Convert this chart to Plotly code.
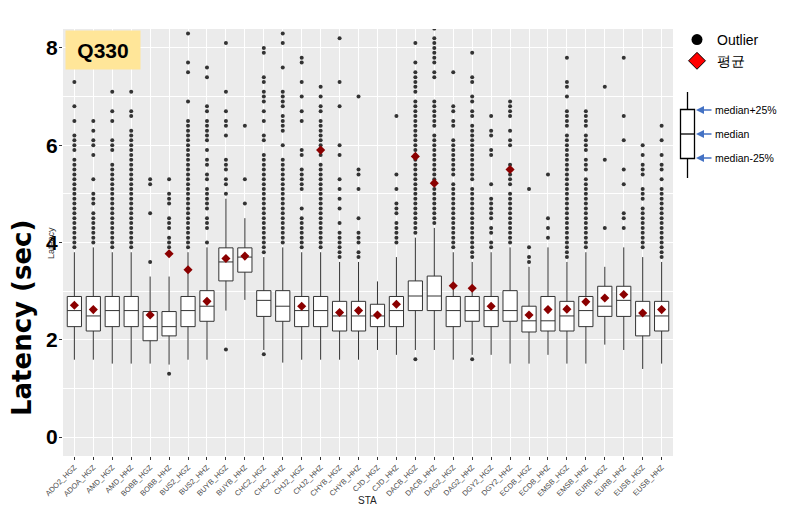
import plotly.graph_objects as go

stations = ["ADO2_HGZ", "ADOA_HGZ", "AMD_HGZ", "AMD_HHZ", "BOBB_HGZ", "BOBB_HHZ", "BUS2_HGZ", "BUS2_HHZ",
            "BUYB_HGZ", "BUYB_HHZ", "CHC2_HGZ", "CHC2_HHZ", "CHJ2_HGZ", "CHJ2_HHZ", "CHYB_HGZ", "CHYB_HHZ",
            "CJD_HGZ", "CJD_HHZ", "DACB_HGZ", "DACB_HHZ", "DAG2_HGZ", "DAG2_HHZ", "DGY2_HGZ", "DGY2_HHZ",
            "ECDB_HGZ", "ECDB_HHZ", "EMSB_HGZ", "EMSB_HHZ", "EURB_HGZ", "EURB_HHZ", "EUSB_HGZ", "EUSB_HHZ"]

q1 = [2.27, 2.18, 2.27, 2.27, 1.98, 2.08, 2.27, 2.38, 3.21, 3.39, 2.48, 2.38, 2.27, 2.27, 2.18, 2.18,
      2.27, 2.27, 2.60, 2.60, 2.27, 2.38, 2.27, 2.38, 2.16, 2.18, 2.18, 2.27, 2.48, 2.48, 2.08, 2.18]
median = [2.60, 2.49, 2.60, 2.60, 2.27, 2.27, 2.60, 2.69, 3.60, 3.70, 2.81, 2.69, 2.60, 2.60, 2.49, 2.49,
          2.49, 2.60, 2.90, 2.90, 2.60, 2.60, 2.60, 2.60, 2.39, 2.39, 2.49, 2.60, 2.69, 2.81, 2.49, 2.49]
q3 = [2.89, 2.89, 2.89, 2.89, 2.58, 2.58, 2.89, 3.01, 3.89, 3.89, 3.01, 3.01, 2.89, 2.89, 2.79, 2.79,
      2.73, 2.89, 3.21, 3.31, 2.89, 2.89, 2.89, 3.01, 2.69, 2.89, 2.79, 2.89, 3.10, 3.10, 2.79, 2.79]
lower_whisker = [1.59, 1.59, 1.51, 1.51, 1.51, 1.49, 1.59, 1.59, 2.60, 2.82, 1.79, 1.53, 1.59, 1.59, 1.59, 1.59,
                 1.79, 1.69, 1.79, 1.79, 1.59, 1.69, 1.69, 1.51, 1.51, 1.69, 1.51, 1.51, 1.90, 1.79, 1.40, 1.51]
upper_whisker = [3.8, 3.9, 3.8, 3.8, 3.3, 3.3, 3.8, 3.9, 4.9, 4.5, 3.7, 3.9, 3.8, 3.8, 3.6, 3.6,
                 3.2, 3.7, 4.1, 4.3, 3.8, 3.6, 3.8, 3.9, 3.5, 3.9, 3.6, 3.8, 3.5, 3.9, 3.7, 3.6]
mean_values = [2.71, 2.62, None, None, 2.51, 3.77, 3.44, 2.79, 3.67, 3.72, None, None, 2.69, 5.90, 2.56, 2.60,
               2.51, 2.73, 5.77, 5.22, 3.11, 3.06, 2.69, 5.50, 2.51, 2.62, 2.63, 2.78, 2.86, 2.93, 2.55, 2.62]

outlier_values = [
    [7.3, 6.8, 6.5, 6.2, 6.1, 6.0, 5.9, 5.7, 5.6, 5.5, 5.4, 5.3, 5.2, 5.1, 5.0, 4.9, 4.8, 4.7, 4.6, 4.5, 4.4, 4.3, 4.2, 4.1, 4.0, 3.9],
    [6.5, 6.3, 6.1, 6.0, 5.8, 5.3, 5.0, 4.9, 4.8, 4.6, 4.5, 4.4, 4.3, 4.2, 4.1, 4.0],
    [7.1, 6.7, 6.5, 6.1, 6.0, 5.9, 5.6, 5.5, 5.4, 5.3, 5.2, 5.1, 5.0, 4.9, 4.8, 4.7, 4.6, 4.5, 4.4, 4.3, 4.2, 4.1, 4.0, 3.9],
    [7.1, 6.7, 6.6, 6.3, 6.2, 6.1, 6.0, 5.9, 5.8, 5.7, 5.6, 5.5, 5.4, 5.3, 5.2, 5.1, 5.0, 4.9, 4.8, 4.7, 4.6, 4.5, 4.4, 4.3, 4.2, 4.1, 4.0, 3.9],
    [5.3, 5.2, 4.6, 3.6],
    [5.3, 5.0, 4.9, 4.8, 4.5, 4.4, 4.3, 4.1, 4.0, 3.9, 1.3],
    [8.3, 7.7, 7.5, 6.9, 6.5, 6.4, 6.3, 6.2, 6.1, 6.0, 5.9, 5.8, 5.7, 5.6, 5.5, 5.4, 5.3, 5.2, 5.1, 5.0, 4.9, 4.8, 4.7, 4.6, 4.5, 4.4, 4.3, 4.2, 4.1, 4.0, 3.9],
    [7.6, 7.4, 6.8, 6.7, 6.5, 6.4, 6.3, 6.2, 6.1, 5.9, 5.7, 5.6, 5.4, 5.3, 5.1, 5.0, 4.9, 4.8, 4.7, 4.5, 4.4, 4.3, 4.0],
    [8.1, 7.1, 6.7, 6.5, 6.4, 6.2, 5.7, 5.6, 5.5, 5.3, 5.2, 5.0, 1.8],
    [6.4, 5.3, 4.8],
    [8.0, 7.9, 7.4, 7.3, 7.1, 7.0, 6.9, 6.7, 6.5, 6.2, 6.1, 5.8, 5.7, 5.6, 5.5, 5.4, 5.3, 5.2, 5.1, 5.0, 4.9, 4.8, 4.7, 4.6, 4.5, 4.4, 4.3, 4.2, 4.1, 4.0, 3.9, 3.8, 1.7],
    [8.3, 8.1, 7.6, 7.1, 7.0, 6.9, 6.8, 6.6, 6.5, 6.4, 6.3, 6.0, 5.7, 5.6, 5.5, 5.4, 5.3, 5.2, 5.1, 5.0, 4.9, 4.8, 4.7, 4.6, 4.5, 4.4, 4.3, 4.2, 4.1, 4.0],
    [7.8, 7.7, 7.3, 7.0, 6.7, 6.5, 5.9, 5.8, 5.5, 5.4, 5.3, 5.2, 5.1, 4.7, 4.5, 4.4, 4.3, 4.2, 4.1, 4.0, 3.9],
    [7.2, 7.0, 6.8, 6.7, 6.5, 6.4, 6.3, 6.2, 6.1, 6.0, 5.8, 5.6, 5.5, 5.4, 5.3, 5.2, 5.1, 5.0, 4.9, 4.8, 4.7, 4.6, 4.5, 4.4, 4.3, 4.2, 4.1, 4.0, 3.9],
    [8.2, 7.3, 6.8, 6.0, 5.8, 5.3, 5.1, 4.9, 4.7, 4.4, 4.2, 4.1, 4.0, 3.9, 3.8, 3.7],
    [7.0, 5.5, 5.4, 5.1, 4.5, 4.2, 4.1, 4.0, 3.8, 3.7],
    [],
    [6.6, 5.4, 5.1, 4.8, 4.7, 4.6, 4.4, 4.3, 4.2, 4.1, 4.0],
    [8.1, 7.7, 7.5, 7.4, 7.3, 7.2, 7.1, 6.9, 6.8, 6.7, 6.6, 6.5, 6.4, 6.3, 6.2, 6.1, 6.0, 5.9, 5.8, 5.7, 5.6, 5.5, 5.4, 5.3, 5.2, 5.1, 5.0, 4.9, 4.8, 4.7, 4.6, 4.5, 4.4, 4.3, 4.2, 1.6],
    [8.4, 8.2, 8.1, 8.0, 7.9, 7.8, 7.7, 7.5, 7.4, 6.9, 6.8, 6.7, 6.6, 6.5, 6.4, 6.2, 6.1, 6.0, 5.9, 5.8, 5.7, 5.6, 5.5, 5.4, 5.3, 5.2, 5.1, 5.0, 4.9, 4.8, 4.7, 4.6, 4.5, 4.4],
    [7.5, 6.8, 6.7, 6.5, 6.4, 6.1, 6.0, 5.9, 5.8, 5.7, 5.6, 5.5, 5.4, 5.2, 5.1, 5.0, 4.9, 4.8, 4.7, 4.6, 4.5, 4.4, 4.3, 4.2, 4.1, 4.0, 3.9],
    [7.9, 7.4, 7.3, 7.0, 6.9, 6.7, 6.6, 6.4, 6.3, 6.2, 6.1, 6.0, 5.9, 5.8, 5.7, 5.6, 5.5, 5.4, 5.3, 5.1, 5.0, 4.9, 4.8, 4.7, 4.6, 4.5, 4.4, 4.3, 4.2, 4.1, 4.0, 3.9, 3.8, 3.7, 1.6],
    [6.6, 6.3, 6.2, 5.9, 5.8, 5.2, 4.9, 4.8, 4.7, 4.6, 4.5, 4.3, 4.2, 4.0, 3.9],
    [6.9, 6.8, 6.7, 6.6, 6.3, 6.1, 6.0, 5.6, 5.5, 5.4, 5.3, 5.2, 5.0, 4.9, 4.8, 4.7, 4.6, 4.5, 4.4, 4.3, 4.2, 4.1, 4.0],
    [5.1, 3.9, 3.7, 3.6],
    [5.4, 4.5, 4.3, 4.1],
    [7.8, 7.3, 7.2, 7.0, 6.7, 6.6, 6.5, 6.4, 6.2, 6.1, 6.0, 5.9, 5.8, 5.7, 5.6, 5.5, 5.4, 5.3, 5.2, 5.1, 5.0, 4.9, 4.8, 4.7, 4.6, 4.5, 4.4, 4.3, 4.2, 4.1, 4.0, 3.9, 3.8, 3.7],
    [6.7, 6.6, 6.5, 6.4, 6.2, 6.1, 6.0, 5.9, 5.7, 5.6, 5.5, 5.3, 5.2, 5.1, 5.0, 4.9, 4.8, 4.7, 4.6, 4.5, 4.4, 4.3, 4.2, 4.1, 4.0, 3.9],
    [7.2, 5.7, 4.3],
    [7.8, 6.6, 6.1, 5.5, 5.2, 4.6, 4.5, 4.3],
    [6.0, 5.8, 5.6, 5.5, 5.4, 5.1, 5.0, 4.9, 4.7, 4.6, 4.5, 4.4, 4.3, 4.2, 4.1, 4.0, 3.9],
    [6.4, 6.1, 5.8, 5.6, 5.5, 5.3, 5.1, 5.0, 4.9, 4.8, 4.7, 4.6, 4.5, 4.4, 4.3, 4.2, 4.1, 4.0, 3.9, 3.8, 3.7],
]

y_ticks = [0, 2, 4, 6, 8]

# ---------------- figure geometry (pixels) ----------------
W, H = 790, 517
ML, MR, MT, MB = 63, 117, 29, 61
PW, PH = W - ML - MR, H - MT - MB


def px(x):
    return (x - ML) / PW


def py(y):
    return (H - MB - y) / PH


fig = go.Figure()

fig.add_trace(go.Box(
    x=stations, q1=q1, median=median, q3=q3,
    lowerfence=lower_whisker, upperfence=upper_whisker,
    boxpoints=False, width=0.75,
    fillcolor="white", line=dict(color="#333333", width=1),
    whiskerwidth=0, showlegend=False, hoverinfo="skip",
))

ox, oy = [], []
for s, vals in zip(stations, outlier_values):
    for v in vals:
        ox.append(s)
        oy.append(v)
fig.add_trace(go.Scatter(
    x=ox, y=oy, mode="markers",
    marker=dict(color="#333333", size=4), showlegend=False,
))

fig.add_trace(go.Scatter(
    x=stations, y=mean_values, mode="markers",
    marker=dict(symbol="diamond", color="#8B0000", size=7), showlegend=False,
))

# legend entries
fig.add_trace(go.Scatter(
    x=[None], y=[None], mode="markers", name="Outlier",
    marker=dict(color="black", size=11),
))
fig.add_trace(go.Scatter(
    x=[None], y=[None], mode="markers", name="평균",
    marker=dict(symbol="diamond", color="#FF0000", size=13, line=dict(color="black", width=1)),
))

# mini boxplot explanation diagram
shapes = [
    dict(type="line", xref="paper", yref="paper", x0=px(687.5), x1=px(687.5), y0=py(92), y1=py(109.5),
         line=dict(color="black", width=1.3)),
    dict(type="line", xref="paper", yref="paper", x0=px(687.5), x1=px(687.5), y0=py(158.5), y1=py(178),
         line=dict(color="black", width=1.3)),
    dict(type="rect", xref="paper", yref="paper", x0=px(680.5), x1=px(694.5), y0=py(109.5), y1=py(158.5),
         line=dict(color="black", width=1.3), fillcolor="white"),
    dict(type="line", xref="paper", yref="paper", x0=px(680.5), x1=px(694.5), y0=py(134), y1=py(134),
         line=dict(color="black", width=1.3)),
]

annotations = []
for label, yy in [("median+25%", 110), ("median", 134), ("median-25%", 158)]:
    annotations.append(dict(
        xref="paper", yref="paper", x=px(696), y=py(yy), text="", showarrow=True,
        ax=17, ay=0, arrowhead=2, arrowsize=1, arrowwidth=1.6, arrowcolor="#4472C4",
    ))
    annotations.append(dict(
        xref="paper", yref="paper", x=px(713), y=py(yy), text=label, showarrow=False,
        xanchor="left", yanchor="middle", font=dict(size=10.5, color="black", family="Liberation Sans"),
    ))

annotations += [
    dict(xref="paper", yref="paper", x=px(64.5), y=py(30), xanchor="left", yanchor="top",
         text="<b>Q330</b>", showarrow=False, width=74, height=38, borderpad=0,
         bgcolor="#FFE699", font=dict(size=21, color="black", family="Liberation Sans")),
    dict(xref="paper", yref="paper", x=px(22), y=py(318), xanchor="center", yanchor="middle",
         text="<b>Latency (sec)</b>", showarrow=False,
         textangle=-90, font=dict(size=26, color="black", family="DejaVu Sans")),
    dict(xref="paper", yref="paper", x=px(51), y=py(243), xanchor="center", yanchor="middle",
         text="Latency", showarrow=False,
         textangle=-90, font=dict(size=9, color="#333333", family="Liberation Sans")),
    dict(xref="paper", yref="paper", x=px(367), y=py(501), xanchor="center", yanchor="middle",
         text="STA", showarrow=False,
         font=dict(size=10, color="#222222", family="Liberation Sans")),
]

fig.update_layout(
    width=W, height=H, autosize=False,
    margin=dict(l=ML, r=MR, t=MT, b=MB),
    paper_bgcolor="white", plot_bgcolor="#EBEBEB",
    font=dict(family="Liberation Sans"),
    shapes=shapes, annotations=annotations,
    legend=dict(x=px(677), y=py(24), xanchor="left", yanchor="top",
                font=dict(size=14, color="black", family="Liberation Sans"),
                bgcolor="rgba(0,0,0,0)", itemsizing="trace"),
    xaxis=dict(type="category", categoryorder="array", categoryarray=stations,
               range=[-0.6, len(stations) - 0.4], showgrid=True, gridcolor="white", gridwidth=1.1,
               ticks="outside", ticklen=3, tickcolor="#333333", tickangle=-45,
               tickfont=dict(size=7.5, color="#4D4D4D"), zeroline=False, automargin=False,
               showline=False),
    yaxis=dict(range=[-0.39, 8.39], tickvals=y_ticks, ticktext=["<b>%d</b>" % t for t in y_ticks],
               showgrid=True, gridcolor="white", gridwidth=1.1,
               minor=dict(dtick=1, tick0=0, showgrid=True, gridcolor="white", gridwidth=0.5),
               ticks="outside", ticklen=3, tickcolor="#333333", ticklabelstandoff=-3,
               tickfont=dict(size=21, color="black", family="Liberation Sans"),
               zeroline=False, automargin=False),
)

fig.write_html("out.html", config={"displayModeBar": False},
               post_script="document.body.style.margin='0';")
